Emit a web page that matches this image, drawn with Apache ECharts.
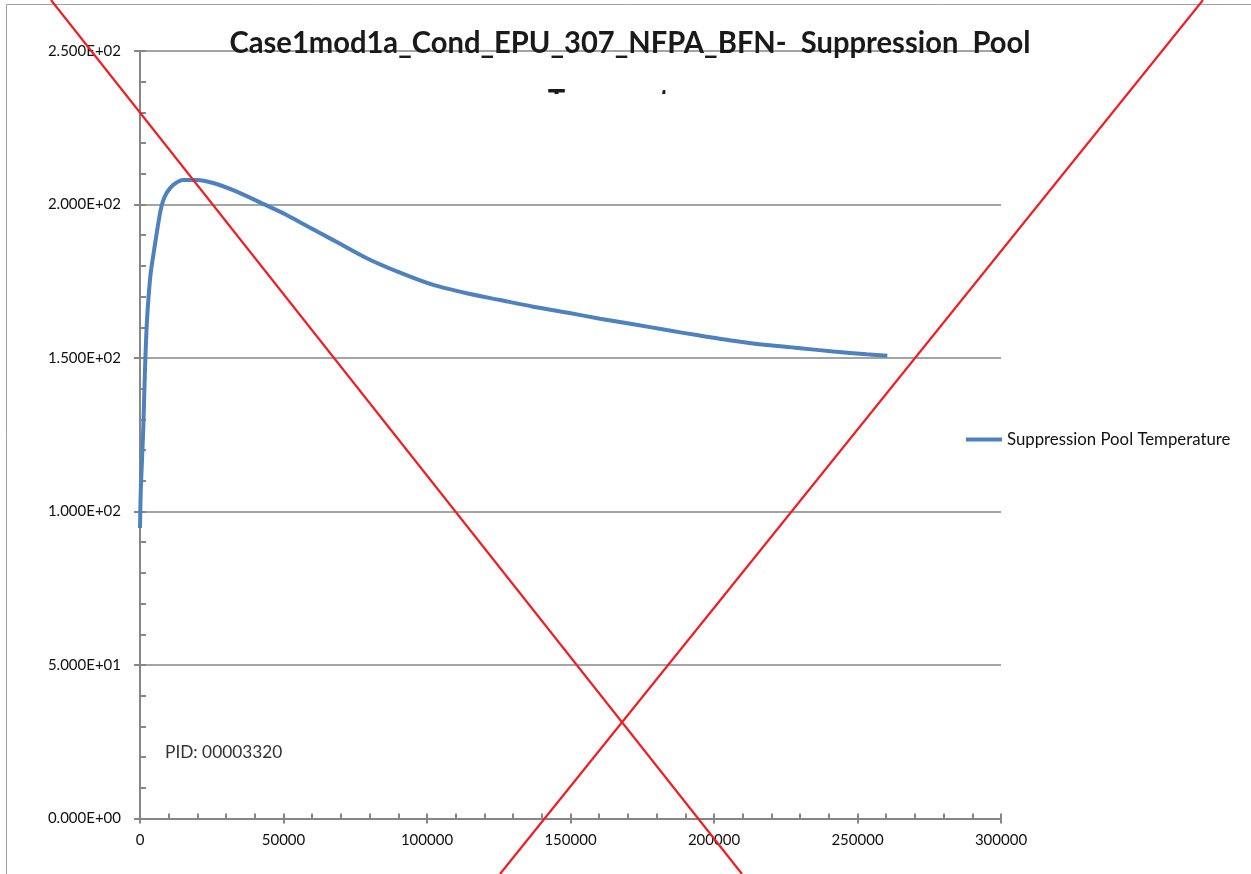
<!DOCTYPE html>
<html><head><meta charset="utf-8">
<script src="https://cdn.jsdelivr.net/npm/echarts@6/dist/echarts.min.js"></script>
<style>html,body{margin:0;padding:0;background:#fff}#c{width:1251px;height:874px}</style>
</head><body><div id="c"></div>
<script>
// ---- data ----
const titleLine1 = 'Case1mod1a_Cond_EPU_307_NFPA_BFN-  Suppression  Pool';
const titleLine2 = 'Temperature';
const seriesName = 'Suppression Pool Temperature';
const pidText = 'PID: 00003320';
const timeSec = [0, 240, 700, 1160, 1500, 1850, 2320, 2900, 3720, 4640, 5800, 6970, 7900, 9300, 11600, 15100, 19750, 25500, 33700, 41800, 51100, 55750, 67350, 79000, 90600, 102200, 113800, 125400, 137000, 148700, 160300, 171900, 183500, 195100, 206700, 218400, 230000, 241600, 253200, 260400];
const poolTempF = [94.6, 105.9, 116.8, 127.6, 138.6, 149.3, 160.2, 168.9, 177.6, 183.5, 190.5, 197.1, 200.8, 203.8, 206.4, 208.0, 208.0, 207.0, 204.2, 200.7, 196.6, 194.2, 188.4, 182.5, 177.8, 173.8, 171.1, 168.9, 166.7, 164.8, 162.8, 161.0, 159.1, 157.3, 155.6, 154.2, 153.2, 152.1, 151.2, 150.7];
const xTickValues = [0, 50000, 100000, 150000, 200000, 250000, 300000];
const yTickValues = [0, 50, 100, 150, 200, 250];
const xMinorStep = 10000;
const yMinorStep = 10;
// red cross-out strokes, in data units (they extend past the plot)
const crossLineA = [[-31010, 266.6], [209756, -18.08]];
const crossLineB = [[370383, 266.6], [125436, -18.08]];

// ---- chart ----
const FONT = 'Lato, "Open Sans", sans-serif';
const AX = '#868686';
const RED = '#EE1D23';
function sci(v) {
  if (v === 0) return '0.000E+00';
  const e = Math.floor(Math.log10(Math.abs(v)));
  const m = v / Math.pow(10, e);
  return m.toFixed(3) + 'E' + (e < 0 ? '-' : '+') + String(Math.abs(e)).padStart(2, '0');
}
const xMin = xTickValues[0], xMax = xTickValues[xTickValues.length - 1];
const yMin = yTickValues[0], yMax = yTickValues[yTickValues.length - 1];
const xStep = xTickValues[1] - xTickValues[0];
const yStep = yTickValues[1] - yTickValues[0];

const chart = echarts.init(document.getElementById('c'), null, {renderer: 'canvas'});
chart.setOption({
  animation: false,
  backgroundColor: '#fff',
  grid: {left: 140, right: 250, top: 51, bottom: 55.5, containLabel: false, outerBoundsMode: 'none'},
  legend: {
    data: [{name: seriesName, icon: 'rect'}],
    left: 966, top: 431, padding: 0,
    itemWidth: 36, itemHeight: 4,
    textStyle: {fontFamily: FONT, fontSize: 16.8, color: '#111'}
  },
  xAxis: [
    {type: 'value', min: xMin, max: xMax, interval: xStep,
     axisLine: {show: true, onZero: false, lineStyle: {color: AX, width: 2}},
     axisTick: {show: true, inside: false, length: 5, lineStyle: {color: AX, width: 2}},
     axisLabel: {color: '#111', fontSize: 15, fontFamily: FONT, margin: 14, formatter: v => String(v)},
     splitLine: {show: false}},
    {type: 'value', min: xMin, max: xMax, interval: xMinorStep, position: 'bottom',
     axisLine: {show: false, onZero: false},
     axisTick: {show: true, inside: true, length: 5, lineStyle: {color: AX, width: 2}},
     axisLabel: {show: false}, splitLine: {show: false}}
  ],
  yAxis: [
    {type: 'value', min: yMin, max: yMax, interval: yStep,
     axisLine: {show: true, onZero: false, lineStyle: {color: AX, width: 2}},
     axisTick: {show: true, inside: false, length: 6, lineStyle: {color: AX, width: 2}},
     axisLabel: {color: '#111', fontSize: 15, fontFamily: FONT, margin: 19, formatter: sci},
     splitLine: {show: true, lineStyle: {color: AX, width: 1.6}}},
    {type: 'value', min: yMin, max: yMax, interval: yMinorStep, position: 'left',
     axisLine: {show: false, onZero: false},
     axisTick: {show: true, inside: true, length: 6, lineStyle: {color: AX, width: 2}},
     axisLabel: {show: false}, splitLine: {show: false}}
  ],
  series: [
    {name: seriesName, type: 'line', xAxisIndex: 0, yAxisIndex: 0,
     data: timeSec.map((t, i) => [t, poolTempF[i]]),
     smooth: 0.25, showSymbol: false, symbol: 'none',
     lineStyle: {color: '#4F81BD', width: 4}, itemStyle: {color: '#4F81BD'}, z: 3}
  ],
  graphic: [
    {id: 'frame', type: 'rect', z: -10, silent: true, shape: {x: 6.5, y: 4.5, width: 1400, height: 1000},
     style: {fill: 'none', stroke: '#a0a0a0', lineWidth: 1}},
    {id: 't2', type: 'text', x: 630, y: 101, z: 50, silent: true, scaleX: 0.94,
     style: {text: titleLine2, fontFamily: FONT, fontWeight: 'bold', fontSize: 31, fill: '#1a1a1a', align: 'center', verticalAlign: 'middle'}},
    {id: 'cover', type: 'rect', z: 51, silent: true, shape: {x: 420, y: 94, width: 420, height: 40}, style: {fill: '#fff'}},
    {id: 't1', type: 'text', x: 630, y: 43, z: 52, silent: true, scaleX: 0.94,
     style: {text: titleLine1, fontFamily: FONT, fontWeight: 'bold', fontSize: 31, fill: '#1a1a1a', align: 'center', verticalAlign: 'middle'}},
    {id: 'pid', type: 'text', x: 165, y: 752, z: 52, silent: true,
     style: {text: pidText, fontFamily: FONT, fontSize: 17.3, fill: '#333', align: 'left', verticalAlign: 'middle'}}
  ]
});
// red cross-out strokes placed through the chart's own scales
function toPx(p) { return chart.convertToPixel({xAxisIndex: 0, yAxisIndex: 0}, p); }
chart.setOption({
  graphic: [crossLineA, crossLineB].map((ln, i) => ({
    id: 'cross' + i, type: 'polyline', z: 60, silent: true,
    shape: {points: ln.map(toPx)},
    style: {stroke: RED, lineWidth: 2.2, fill: null}
  }))
});
</script></body></html>
